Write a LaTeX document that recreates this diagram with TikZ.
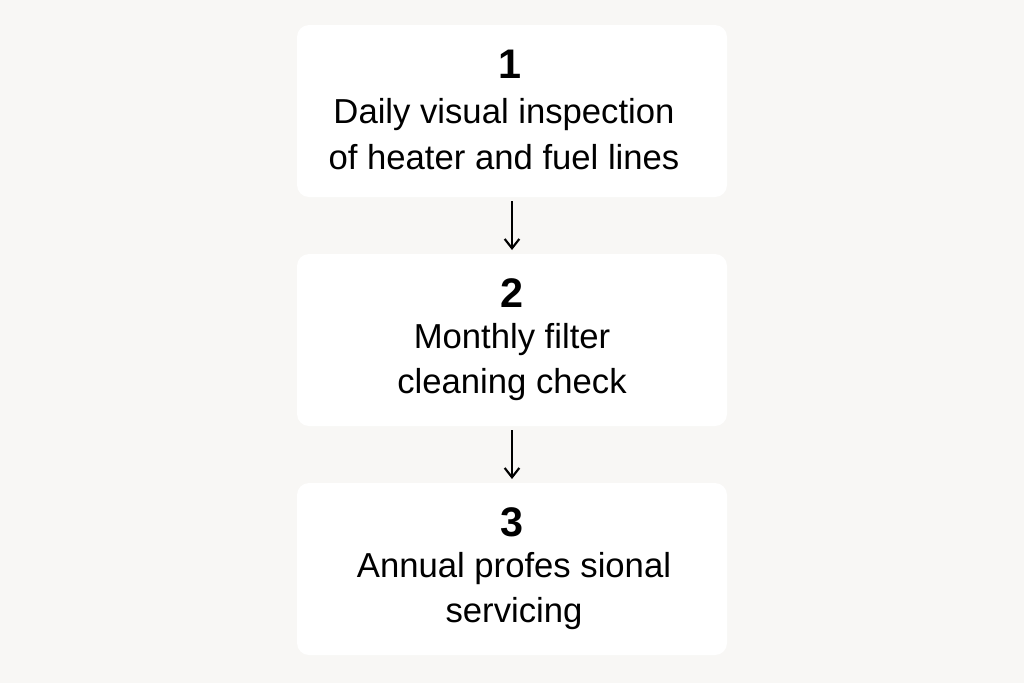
\documentclass[tikz,border=0pt]{standalone}
\usepackage{fontspec}
\setmainfont{Liberation Sans}
\usetikzlibrary{arrows.meta}
\definecolor{bg}{HTML}{F8F7F5}
\begin{document}
\begin{tikzpicture}[x=0.75pt,y=-0.75pt,
  box/.style={fill=white,rounded corners=9pt,minimum width=322.5pt,minimum height=129pt,inner sep=0pt},
  num/.style={font=\fontsize{31}{32}\selectfont\bfseries},
  txt/.style={font=\fontsize{26}{34}\selectfont,align=center},
  arr/.style={-{Straight Barb[length=7pt,width=11pt]},line width=1.6pt,black}]
\fill[bg] (0,0) rectangle (1024,683);
\useasboundingbox (0,0) rectangle (1024,683);
\node[box] (b1) at (512,111) {};
\node[box] (b2) at (512,340) {};
\node[box] (b3) at (512,569) {};
\node[num] (n1) at (510,64) {1};
\node[txt] (t1) at (504,134) {Daily visual inspection\\of heater and fuel lines};
\node[num] (n2) at (512,293) {2};
\node[txt] (t2) at (512,362) {Monthly filter\\cleaning check};
\node[num] (n3) at (512,522) {3};
\node[txt] (t3) at (514,591) {Annual profes sional\\servicing};
\coordinate (a1) at (512,201); \coordinate (a1e) at (512,250);
\coordinate (a2) at (512,430); \coordinate (a2e) at (512,479);
\draw[arr] (a1) -- (a1e);
\draw[arr] (a2) -- (a2e);
\end{tikzpicture}
\end{document}
